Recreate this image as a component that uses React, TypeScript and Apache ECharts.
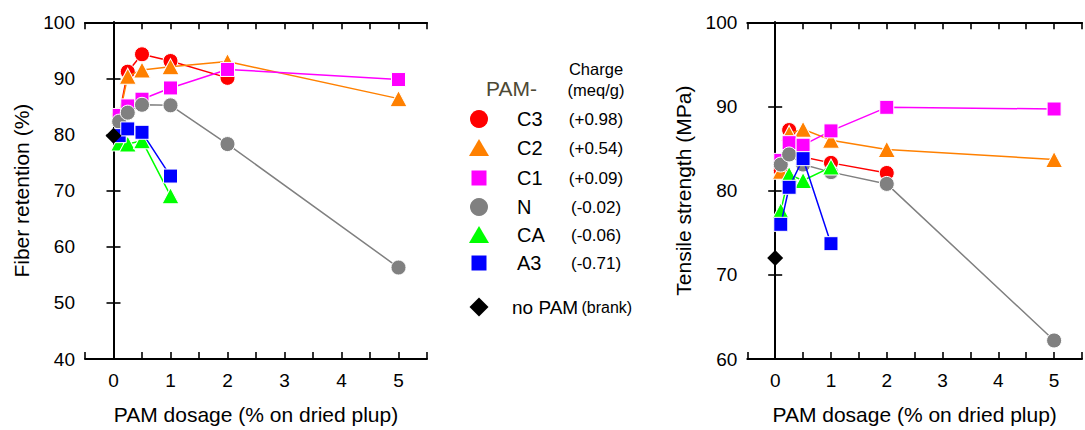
import React, { useEffect, useRef } from "react";
import * as echarts from "echarts";

// ---------- data ----------
const dosage = [0.1, 0.25, 0.5, 1, 2, 5];
const pamNames = ["C3", "C2", "C1", "N", "CA", "A3"];
const pamCharges = ["(+0.98)", "(+0.54)", "(+0.09)", "(-0.02)", "(-0.06)", "(-0.71)"];

const retentionC3 = [83.5, 91.2, 94.3, 93.1, 90.1, null];
const retentionC2 = [83.2, 90.4, 91.5, 92.1, 93.0, 86.4];
const retentionC1 = [83.4, 85.1, 86.3, 88.3, 91.6, 89.8];
const retentionN = [82.3, 83.9, 85.3, 85.2, 78.3, 56.3];
const retentionCA = [78.5, 78.3, 78.9, 69.1, null, null];
const retentionA3 = [79.8, 81.0, 80.4, 72.6, null, null];

const tensileC3 = [82.4, 87.2, 84.0, 83.3, 82.1, null];
const tensileC2 = [82.3, 86.8, 87.3, 86.0, 84.9, 83.7];
const tensileC1 = [83.6, 85.7, 85.4, 87.1, 89.9, 89.7];
const tensileN = [83.1, 84.3, 83.1, 82.2, 80.8, 62.2];
const tensileCA = [77.6, 81.9, 81.2, 82.8, null, null];
const tensileA3 = [76.0, 80.4, 83.8, 73.7, null, null];

const blankDosage = 0;
const blankRetention = 79.8;
const blankTensile = 72.0;

const retentionTicks = [40, 50, 60, 70, 80, 90, 100];
const tensileTicks = [60, 70, 80, 90, 100];
const dosageTicks = [0, 1, 2, 3, 4, 5];

// ---------- styles ----------
const FONT = 'Arial, "Liberation Sans", Helvetica, sans-serif';
const colors = ["#ff0000", "#ff8000", "#ff00ff", "#808080", "#00ff00", "#0000ff"];
const symbols = ["circle", "triangle", "rect", "circle", "triangle", "rect"];
const symbolSizes: any[] = [15, [17, 16], 14, 15, [17, 16], 14];

function pairs(values: (number | null)[]) {
  const out: number[][] = [];
  values.forEach((v, i) => {
    if (v !== null) out.push([dosage[i], v]);
  });
  return out;
}

function buildSeries(all: (number | null)[][], xi: number, yi: number, blank: number) {
  const s: any[] = all.map((vals, k) => ({
    type: "line",
    name: pamNames[k],
    xAxisIndex: xi,
    yAxisIndex: yi,
    data: pairs(vals),
    symbol: symbols[k],
    symbolSize: symbolSizes[k],
    lineStyle: { color: colors[k], width: 1.5 },
    itemStyle: { color: colors[k], borderColor: "#ffffff", borderWidth: 1, opacity: 1 },
    z: 2 + k,
  }));
  s.push({
    type: "scatter",
    name: "no PAM",
    xAxisIndex: xi,
    yAxisIndex: yi,
    data: [[blankDosage, blank]],
    symbol: "diamond",
    symbolSize: 16,
    itemStyle: { color: "#000000", opacity: 1 },
    z: 10,
  });
  return s;
}

const axisLine = { show: true, lineStyle: { color: "#000", width: 2 } };
const tickIn = { show: true, inside: true, length: 7, lineStyle: { color: "#000", width: 1.6 } };

function xAxes(gridIndex: number) {
  return [
    {
      type: "value",
      gridIndex,
      position: "bottom",
      min: -0.5,
      max: 5.5,
      interval: 0.5,
      axisLine,
      axisTick: tickIn,
      splitLine: { show: false },
      axisLabel: {
        color: "#000",
        fontSize: 19,
        fontFamily: FONT,
        margin: 12,
        formatter: (v: number) => (dosageTicks.includes(v) ? String(v) : ""),
      },
      name: "PAM dosage (% on dried plup)",
      nameLocation: "middle",
      nameGap: 45,
      nameTextStyle: { color: "#000", fontSize: 21, fontFamily: FONT },
    },
    {
      type: "value",
      gridIndex,
      position: "top",
      min: -0.5,
      max: 5.5,
      interval: 0.5,
      axisLine,
      axisTick: tickIn,
      splitLine: { show: false },
      axisLabel: { show: false },
    },
  ];
}

function yAxes(gridIndex: number, ticks: number[], name: string) {
  return [
    {
      type: "value",
      gridIndex,
      position: "left",
      min: ticks[0],
      max: ticks[ticks.length - 1],
      interval: ticks[1] - ticks[0],
      axisLine,
      axisTick: tickIn,
      splitLine: { show: false },
      axisLabel: { color: "#000", fontSize: 19, fontFamily: FONT, margin: 10 },
      name,
      nameLocation: "middle",
      nameGap: 53,
      nameTextStyle: { color: "#000", fontSize: 21, fontFamily: FONT },
    },
    {
      type: "value",
      gridIndex,
      position: "right",
      min: ticks[0],
      max: ticks[ticks.length - 1],
      interval: ticks[1] - ticks[0],
      axisLine,
      axisTick: tickIn,
      splitLine: { show: false },
      axisLabel: { show: false },
    },
  ];
}

function legendGraphics() {
  const els: any[] = [];
  const mx = 479;
  const rows = [119, 148, 178, 207, 235, 263];
  els.push({
    type: "text",
    left: 486,
    top: 78,
    style: { text: "PAM-", fill: "#4d4934", font: `21px ${FONT}` },
  });
  els.push({
    type: "text",
    x: 596,
    y: 69,
    style: { text: "Charge", fill: "#000", font: `16.5px ${FONT}`, align: "center", verticalAlign: "middle" },
  });
  els.push({
    type: "text",
    x: 596,
    y: 90,
    style: { text: "(meq/g)", fill: "#000", font: `16.5px ${FONT}`, align: "center", verticalAlign: "middle" },
  });
  rows.forEach((y, k) => {
    const c = colors[k];
    const sym = symbols[k];
    if (sym === "circle") {
      els.push({ type: "circle", shape: { cx: mx, cy: y, r: 9 }, style: { fill: c } });
    } else if (sym === "triangle") {
      els.push({
        type: "polygon",
        shape: { points: [[mx, y - 9], [mx + 10, y + 8], [mx - 10, y + 8]] },
        style: { fill: c },
      });
    } else {
      els.push({ type: "rect", shape: { x: mx - 7.5, y: y - 7.5, width: 15, height: 15 }, style: { fill: c } });
    }
    els.push({
      type: "text",
      x: 517,
      y,
      style: { text: pamNames[k], fill: "#000", font: `20px ${FONT}`, verticalAlign: "middle" },
    });
    els.push({
      type: "text",
      x: 596,
      y,
      style: { text: pamCharges[k], fill: "#000", font: `17px ${FONT}`, align: "center", verticalAlign: "middle" },
    });
  });
  const by = 307;
  els.push({
    type: "polygon",
    shape: { points: [[mx, by - 9.5], [mx + 9.5, by], [mx, by + 9.5], [mx - 9.5, by]] },
    style: { fill: "#000" },
  });
  els.push({
    type: "text",
    x: 512,
    y: by,
    style: {
      text: "{a|no PAM} {b|(brank)}",
      verticalAlign: "middle",
      rich: {
        a: { fontSize: 19, fontFamily: FONT, fill: "#000", color: "#000" },
        b: { fontSize: 16, fontFamily: FONT, fill: "#000", color: "#000" },
      },
    },
  });
  return els;
}

export default function App() {
  const ref = useRef<HTMLDivElement>(null);
  useEffect(() => {
    if (!ref.current) return;
    const chart = echarts.init(ref.current, null, { renderer: "svg" });
    const retention = [retentionC3, retentionC2, retentionC1, retentionN, retentionCA, retentionA3];
    const tensile = [tensileC3, tensileC2, tensileC1, tensileN, tensileCA, tensileA3];
    chart.setOption({
      animation: false,
      backgroundColor: "#ffffff",
      textStyle: { fontFamily: FONT },
      grid: [
        { left: 85, top: 22.3, width: 342, height: 340.4 },
        { left: 747.3, top: 22.3, width: 342, height: 340.4 },
      ],
      xAxis: [...xAxes(0), ...xAxes(1)],
      yAxis: [
        ...yAxes(0, retentionTicks, "Fiber retention (%)"),
        ...yAxes(1, tensileTicks, "Tensile strength (MPa)"),
      ],
      series: [...buildSeries(retention, 0, 0, blankRetention), ...buildSeries(tensile, 2, 2, blankTensile)],
      graphic: legendGraphics(),
    });
    return () => chart.dispose();
  }, []);
  return (
    <div
      ref={ref}
      style={{ position: "fixed", left: 0, top: 0, width: 1085, height: 430, background: "#fff" }}
    />
  );
}
